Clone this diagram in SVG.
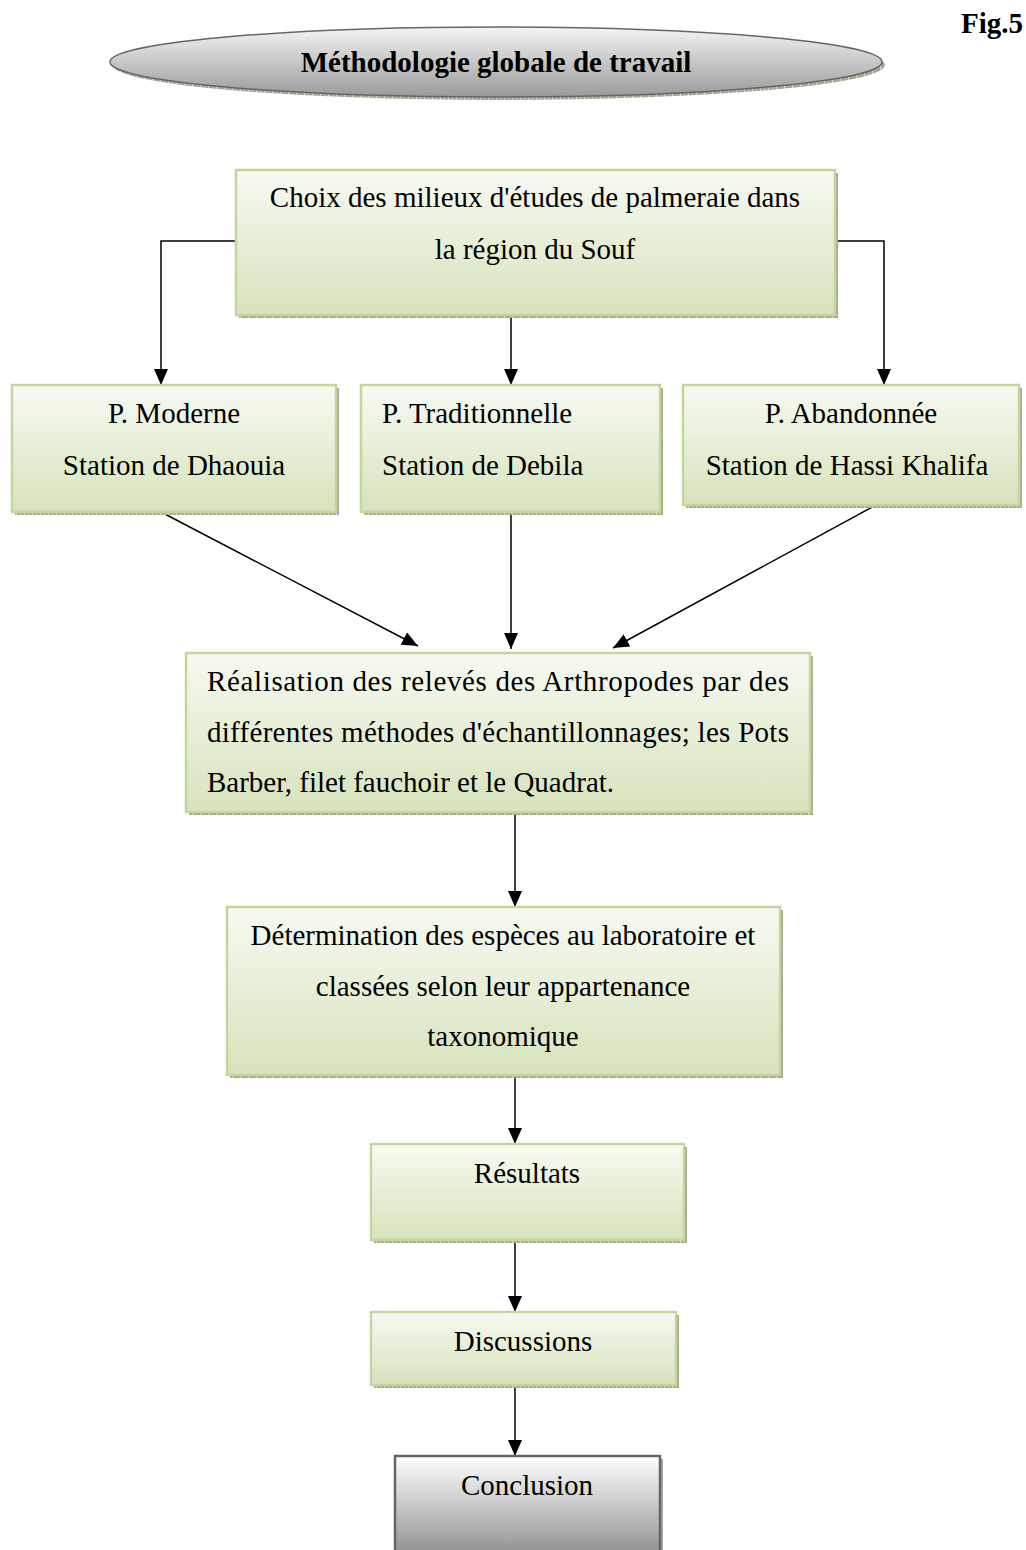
<svg xmlns="http://www.w3.org/2000/svg" width="1026" height="1550" viewBox="0 0 1026 1550">
<style>
.t{font-family:"Liberation Serif","Times New Roman",serif;font-size:29px;fill:#000}
.box{fill:url(#green);stroke:#c3d69b;stroke-width:2.5}
.sh{fill:url(#hatch)}
.ln{stroke:#000;stroke-width:1.5;fill:none}
</style>
<defs>
<linearGradient id="green" x1="0" y1="0" x2="0" y2="1">
<stop offset="0" stop-color="#f7faf2"/><stop offset="1" stop-color="#d6e3bc"/>
</linearGradient>
<linearGradient id="gray" x1="0" y1="0" x2="0" y2="1">
<stop offset="0" stop-color="#ffffff"/><stop offset="1" stop-color="#8f8f8f"/>
</linearGradient>
<linearGradient id="ell" x1="0" y1="0" x2="0" y2="1">
<stop offset="0" stop-color="#f4f4f4"/><stop offset="1" stop-color="#9a9a9a"/>
</linearGradient>
<pattern id="hatch" width="8" height="8" patternUnits="userSpaceOnUse">
<rect width="8" height="8" fill="#a8a898"/>
<rect x="0" y="0" width="1" height="8" fill="#d8d8cc"/>
<rect x="4" y="2" width="1" height="1" fill="#d0d0c4"/>
</pattern>
<marker id="arr" markerWidth="16" markerHeight="14" viewBox="0 0 16 14" refX="16" refY="7" orient="auto" markerUnits="userSpaceOnUse">
<path d="M0,0 L16,7 L0,14 Z" fill="#000"/>
</marker>
</defs>

<g id="title">
<ellipse cx="499" cy="65" rx="386" ry="35" class="sh"/>
<ellipse cx="496" cy="62" rx="386" ry="35" fill="url(#ell)" stroke="#666" stroke-width="1.5"/>
<text x="496" y="72" text-anchor="middle" class="t" font-weight="bold">Méthodologie globale de travail</text>
</g>
<g id="figlabel">
<text x="1023" y="33" text-anchor="end" class="t" font-size="30" font-weight="bold">Fig.5</text>
</g>

<g id="connectors">
<path class="ln" d="M236,241 H161 V385" marker-end="url(#arr)"/>
<path class="ln" d="M835,241 H884 V385" marker-end="url(#arr)"/>
<path class="ln" d="M511,315 V385" marker-end="url(#arr)"/>
<path class="ln" d="M161,512 L418,646" marker-end="url(#arr)"/>
<path class="ln" d="M511,512 V649" marker-end="url(#arr)"/>
<path class="ln" d="M876,505 L613,648" marker-end="url(#arr)"/>
<path class="ln" d="M515,812 V907" marker-end="url(#arr)"/>
<path class="ln" d="M515,1075 V1144" marker-end="url(#arr)"/>
<path class="ln" d="M515,1240 V1312" marker-end="url(#arr)"/>
<path class="ln" d="M515,1385 V1456" marker-end="url(#arr)"/>
</g>

<g id="choix">
<rect x="239" y="173" width="599" height="145" class="sh"/>
<rect x="236" y="170" width="599" height="145" class="box"/>
<text x="535" y="207" text-anchor="middle" class="t">Choix des milieux d'études de palmeraie dans</text>
<text x="535" y="259" text-anchor="middle" class="t">la région du Souf</text>
</g>

<g id="moderne">
<rect x="15" y="388" width="324" height="127" class="sh"/>
<rect x="12" y="385" width="324" height="127" class="box"/>
<text x="174" y="423" text-anchor="middle" class="t">P. Moderne</text>
<text x="174" y="475" text-anchor="middle" class="t">Station de Dhaouia</text>
</g>

<g id="traditionnelle">
<rect x="364" y="388" width="299" height="127" class="sh"/>
<rect x="361" y="385" width="299" height="127" class="box"/>
<text x="382" y="423" class="t">P. Traditionnelle</text>
<text x="382" y="475" class="t">Station de Debila</text>
</g>

<g id="abandonnee">
<rect x="686" y="388" width="336" height="120" class="sh"/>
<rect x="683" y="385" width="336" height="120" class="box"/>
<text x="851" y="423" text-anchor="middle" class="t">P. Abandonnée</text>
<text x="847" y="475" text-anchor="middle" class="t">Station de Hassi Khalifa</text>
</g>

<g id="releves">
<rect x="189" y="656" width="624" height="159" class="sh"/>
<rect x="186" y="653" width="624" height="159" class="box"/>
<text x="207" y="691" class="t" textLength="582" lengthAdjust="spacing">Réalisation des relevés des Arthropodes par des</text>
<text x="207" y="742" class="t" textLength="582" lengthAdjust="spacing">différentes méthodes d'échantillonnages; les Pots</text>
<text x="207" y="792" class="t">Barber, filet fauchoir et le Quadrat.</text>
</g>

<g id="determination">
<rect x="230" y="910" width="553" height="168" class="sh"/>
<rect x="227" y="907" width="553" height="168" class="box"/>
<text x="503" y="945" text-anchor="middle" class="t">Détermination des espèces au laboratoire et</text>
<text x="503" y="996" text-anchor="middle" class="t">classées selon leur appartenance</text>
<text x="503" y="1046" text-anchor="middle" class="t">taxonomique</text>
</g>

<g id="resultats">
<rect x="374" y="1147" width="313" height="96" class="sh"/>
<rect x="371" y="1144" width="313" height="96" class="box"/>
<text x="527" y="1183" text-anchor="middle" class="t">Résultats</text>
</g>

<g id="discussions">
<rect x="374" y="1315" width="305" height="73" class="sh"/>
<rect x="371" y="1312" width="305" height="73" class="box"/>
<text x="523" y="1351" text-anchor="middle" class="t">Discussions</text>
</g>

<g id="conclusion">
<rect x="398" y="1459" width="265" height="100" class="sh"/>
<rect x="395" y="1456" width="265" height="100" fill="url(#gray)" stroke="#666" stroke-width="2.5"/>
<text x="527" y="1495" text-anchor="middle" class="t">Conclusion</text>
</g>
</svg>
